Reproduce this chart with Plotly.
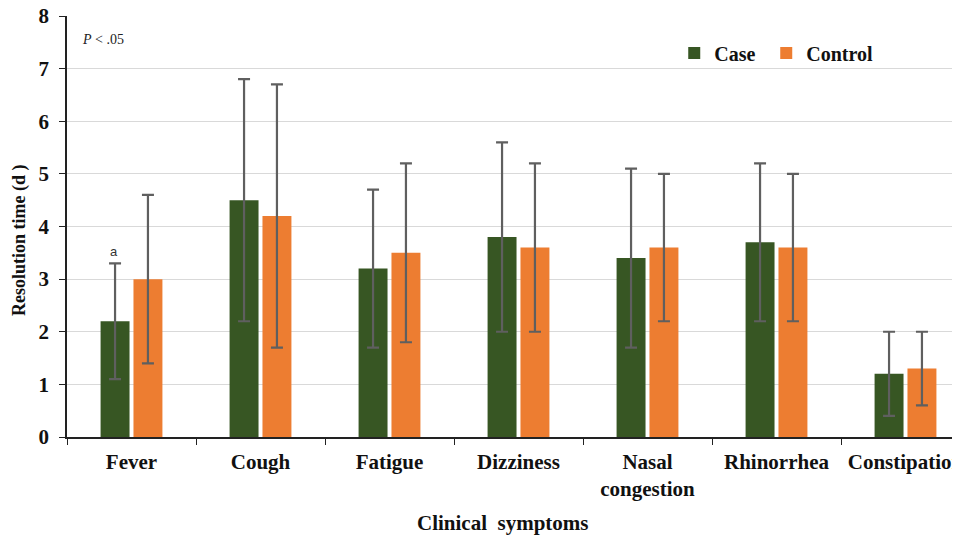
import plotly.graph_objects as go

categories = ["Fever", "Cough", "Fatigue", "Dizziness", "Nasal<br>congestion", "Rhinorrhea", "Constipation"]
case_vals = [2.2, 4.5, 3.2, 3.8, 3.4, 3.7, 1.2]
case_err = [1.1, 2.3, 1.5, 1.8, 1.7, 1.5, 0.8]
control_vals = [3.0, 4.2, 3.5, 3.6, 3.6, 3.6, 1.3]
control_err = [1.6, 2.5, 1.7, 1.6, 1.4, 1.4, 0.7]
y_ticks = [0, 1, 2, 3, 4, 5, 6, 7, 8]

serif = "Liberation Serif"
err_style = dict(type="data", visible=True, color="#5f5f5f", thickness=2.2, width=6)

fig = go.Figure()
fig.add_trace(go.Bar(name="Case", x=categories, y=case_vals,
                     error_y=dict(array=case_err, **err_style),
                     marker=dict(color="#375623", line=dict(width=0)), legend="legend"))
fig.add_trace(go.Bar(name="Control", x=categories, y=control_vals,
                     error_y=dict(array=control_err, **err_style),
                     marker=dict(color="#ED7D31", line=dict(width=0)), legend="legend2"))

legend_font = dict(family=serif, size=20, color="#111111", weight="bold")
fig.update_layout(
    width=952, height=528,
    margin=dict(l=59, r=0, t=8, b=99),
    plot_bgcolor="white", paper_bgcolor="white",
    barmode="group", bargap=0.49, bargroupgap=0.12,
    font=dict(family=serif, color="#111111"),
    legend=dict(orientation="h", x=0.68, y=0.912, xanchor="left", yanchor="middle",
                font=legend_font, itemwidth=30, bgcolor="rgba(0,0,0,0)"),
    legend2=dict(orientation="h", x=0.68 + 92 / 893, y=0.912, xanchor="left", yanchor="middle",
                 font=legend_font, itemwidth=30, bgcolor="rgba(0,0,0,0)"),
    showlegend=True,
)
fig.update_xaxes(
    range=[-0.5, 6.5 - 10 / 129], showline=True, linecolor="#222222", linewidth=1.5,
    ticks="outside", tickson="boundaries", ticklen=6, tickcolor="#222222",
    tickfont=dict(family=serif, size=21, color="#111111", weight="bold"),
    ticklabelstandoff=5, ticklabeloverflow="allow",
    showgrid=False, automargin=False,
)
fig.update_yaxes(
    range=[0, 8], tickvals=y_ticks, showline=True, linecolor="#222222", linewidth=1.5,
    ticks="outside", ticklen=6, tickcolor="#222222",
    tickfont=dict(family=serif, size=21, color="#111111", weight="bold"),
    ticklabelstandoff=6, ticklabeloverflow="allow",
    gridcolor="#d9d9d9", gridwidth=1, zeroline=False, automargin=False,
)
fig.add_annotation(x=0.488, y=-86 / 421, xref="paper", yref="paper", showarrow=False,
                   text="Clinical  symptoms", xanchor="center", yanchor="middle",
                   font=dict(family=serif, size=21, color="#111111", weight="bold"))
fig.add_annotation(x=-47 / 893, y=0.468, xref="paper", yref="paper", showarrow=False,
                   text="Resolution time (d )", textangle=-90, xanchor="center", yanchor="middle",
                   font=dict(family=serif, size=18, color="#111111", weight="bold"))
fig.add_annotation(x=0.015, y=0.945, xref="paper", yref="paper", showarrow=False,
                   text="<i>P</i> < .05", font=dict(family=serif, size=14, color="#222222"),
                   xanchor="left", yanchor="middle")
fig.add_annotation(x=categories[0], y=case_vals[0] + case_err[0], xref="x", yref="y",
                   xshift=-18, yshift=12, showarrow=False, text="a",
                   font=dict(family="Liberation Sans", size=13, color="#333333"))

fig.write_html("out.html")
